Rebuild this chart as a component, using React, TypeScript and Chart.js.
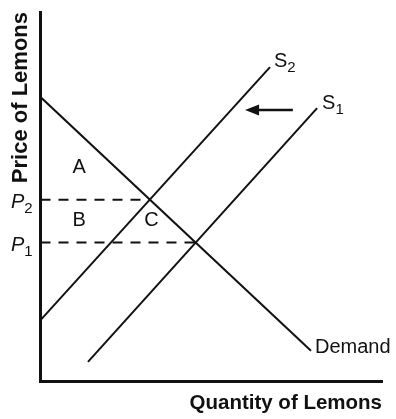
import { useEffect, useRef } from "react";
import { Chart, registerables } from "chart.js";

Chart.register(...registerables);

// Curves (quantity on x, price on y)
const demandQ = [0, 7.92];
const demandP = [7.7, 0.83];
const supply2Q = [0, 6.72];
const supply2P = [1.66, 8.51];
const supply1Q = [1.39, 8.1];
const supply1P = [0.53, 7.4];

// Equilibrium prices P2, P1 and their quantities
const priceNames = ["2", "1"];
const priceLevels = [4.92, 3.76];
const priceQuantities = [3.2, 4.54];

// Area labels
const areaNames = ["A", "B", "C"];
const areaQ = [1.13, 1.13, 3.25];
const areaP = [5.79, 4.37, 4.37];

// Shift arrow (from S1 towards S2)
const arrowQ = [7.39, 5.99];
const arrowP = [7.35, 7.35];

const curveNames = ["Demand", "S2", "S1"];

const FONT = "'Liberation Sans', Arial, sans-serif";
const INK = "#111111";

const pts = (xs: number[], ys: number[]) => xs.map((x, i) => ({ x, y: ys[i] }));

const labelPlugin = {
  id: "econLabels",
  afterDatasetsDraw(chart: any) {
    const { ctx, scales } = chart;
    const xs = scales.x;
    const ys = scales.y;
    const px = (v: number) => xs.getPixelForValue(v);
    const py = (v: number) => ys.getPixelForValue(v);
    ctx.save();
    ctx.fillStyle = INK;
    ctx.strokeStyle = INK;

    // Arrow
    const ax0 = px(arrowQ[0]);
    const ay0 = py(arrowP[0]);
    const ax1 = px(arrowQ[1]);
    const ay1 = py(arrowP[1]);
    ctx.lineWidth = 2.5;
    ctx.beginPath();
    ctx.moveTo(ax0, ay0);
    ctx.lineTo(ax1 + 10, ay1);
    ctx.stroke();
    ctx.beginPath();
    ctx.moveTo(ax1, ay1);
    ctx.lineTo(ax1 + 14, ay1 - 5.5);
    ctx.lineTo(ax1 + 14, ay1 + 5.5);
    ctx.closePath();
    ctx.fill();

    // Area labels
    ctx.font = `20px ${FONT}`;
    ctx.textAlign = "center";
    ctx.textBaseline = "middle";
    areaNames.forEach((n, i) => ctx.fillText(n, px(areaQ[i]), py(areaP[i])));

    // Supply labels with subscripts
    ctx.textAlign = "left";
    ctx.textBaseline = "alphabetic";
    const supplyEnds = [
      { name: "2", x: supply2Q[1], y: supply2P[1], dx: 4, dy: 0 },
      { name: "1", x: supply1Q[1], y: supply1P[1], dx: 5, dy: 1 },
    ];
    supplyEnds.forEach((s) => {
      const x = px(s.x) + s.dx;
      const y = py(s.y) + s.dy;
      ctx.font = `20px ${FONT}`;
      ctx.fillText("S", x, y);
      const w = ctx.measureText("S").width;
      ctx.font = `15px ${FONT}`;
      ctx.fillText(s.name, x + w, y + 5);
    });

    // Demand label
    ctx.font = `20px ${FONT}`;
    ctx.fillText(curveNames[0], px(demandQ[1]) + 4, py(demandP[1]) + 2);

    // Price labels
    priceNames.forEach((n, i) => {
      const y = py(priceLevels[i]) + 8;
      ctx.font = `italic 20px ${FONT}`;
      ctx.fillText("P", 11, y);
      const w = ctx.measureText("P").width;
      ctx.font = `15px ${FONT}`;
      ctx.fillText(n, 11 + w, y + 5);
    });

    ctx.restore();
  },
};

export default function App() {
  const ref = useRef<HTMLCanvasElement | null>(null);

  useEffect(() => {
    if (!ref.current) return;
    const line = (data: any, dashed = false) => ({
      data,
      showLine: true,
      borderColor: INK,
      backgroundColor: INK,
      borderWidth: 2,
      pointRadius: 0,
      borderDash: dashed ? [10, 8] : [],
      fill: false,
    });
    const chart = new Chart(ref.current, {
      type: "scatter",
      data: {
        datasets: [
          { label: curveNames[0], ...line(pts(demandQ, demandP)) },
          { label: curveNames[1], ...line(pts(supply2Q, supply2P)) },
          { label: curveNames[2], ...line(pts(supply1Q, supply1P)) },
          ...priceLevels.map((p, i) => ({
            label: "P" + priceNames[i],
            ...line([{ x: 0, y: p }, { x: priceQuantities[i], y: p }], true),
          })),
        ],
      },
      options: {
        animation: false,
        responsive: true,
        maintainAspectRatio: false,
        layout: { padding: { top: 12, right: 14, bottom: 0, left: 0 } },
        plugins: {
          legend: { display: false },
          tooltip: { enabled: false },
        },
        events: [],
        scales: {
          x: {
            type: "linear",
            min: 0,
            max: 10,
            grid: { display: false },
            ticks: { display: false },
            border: { display: true, color: INK, width: 3 },
            title: {
              display: true,
              text: "Quantity of Lemons",
              align: "end",
              color: INK,
              font: { family: FONT, size: 20.5, weight: "bold" },
              padding: { top: 0, bottom: 3 },
            },
            afterFit: (s: any) => {
              s.height = 37.5;
            },
          },
          y: {
            type: "linear",
            min: 0,
            max: 10,
            grid: { display: false },
            ticks: { display: false },
            border: { display: true, color: INK, width: 3 },
            title: {
              display: true,
              text: "Price of Lemons",
              align: "end",
              color: INK,
              font: { family: FONT, size: 22, weight: "bold" },
              padding: { top: 8, bottom: 0 },
            },
            afterFit: (s: any) => {
              s.width = 40.5;
            },
          },
        },
      } as any,
      plugins: [labelPlugin],
    });
    return () => chart.destroy();
  }, []);

  return (
    <div style={{ position: "fixed", left: 0, top: 0, width: 396, height: 419, background: "#fff" }}>
      <canvas ref={ref} />
    </div>
  );
}
